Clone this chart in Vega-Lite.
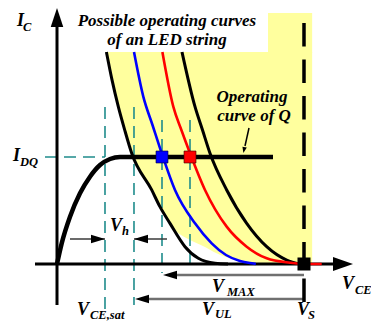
{
  "$schema": "https://vega.github.io/schema/vega-lite/v6.json",
  "width": 371,
  "height": 322,
  "padding": 0,
  "autosize": {"type": "none"},
  "background": "white",
  "config": {"view": {"stroke": null}},
  "encoding": {
    "x": {"field": "x", "type": "quantitative", "axis": null,
          "scale": {"domain": [-2.308, 12.713], "nice": false, "zero": false}},
    "y": {"field": "y", "type": "quantitative", "axis": null,
          "scale": {"domain": [-0.542, 2.467], "nice": false, "zero": false}}
  },
  "layer": [
    {
      "description": "shaded band of possible LED operating curves (upper notch)",
      "data": {"values": [{"x": 8.543, "x2": 10.33, "y": 1.975, "y2": 2.346}]},
      "mark": {"type": "rect", "color": "#ffff9e"},
      "encoding": {"x2": {"field": "x2"}, "y2": {"field": "y2"}}
    },
    {
      "description": "shaded band of possible LED operating curves (main body)",
      "data": {"values": [
        {"y": 1.981, "x": 2.0, "x2": 10.33},
        {"y": 1.72, "x": 2.227, "x2": 10.33},
        {"y": 1.47, "x": 2.482, "x2": 10.33},
        {"y": 1.243, "x": 2.753, "x2": 10.33},
        {"y": 1.035, "x": 3.024, "x2": 10.33},
        {"y": 0.692, "x": 3.834, "x2": 10.33},
        {"y": 0.536, "x": 4.166, "x2": 10.33},
        {"y": 0.38, "x": 4.575, "x2": 10.33},
        {"y": 0.29, "x": 4.899, "x2": 10.33},
        {"y": 0.224, "x": 5.385, "x2": 10.33},
        {"y": 0.159, "x": 5.992, "x2": 10.33},
        {"y": 0.103, "x": 6.437, "x2": 10.33},
        {"y": 0.065, "x": 6.842, "x2": 10.33},
        {"y": 0.028, "x": 7.49, "x2": 10.33},
        {"y": 0.009, "x": 8.138, "x2": 10.33},
        {"y": 0.0, "x": 8.826, "x2": 10.33}
      ]},
      "mark": {"type": "area", "orient": "horizontal", "interpolate": "monotone", "color": "#ffff9e"},
      "encoding": {"x2": {"field": "x2"}}
    },
    {
      "description": "teal dashed guide lines",
      "data": {"values": [
        {"x": 1.943, "x2": 1.943, "y": 1.467, "y2": -0.458},
        {"x": 3.117, "x2": 3.117, "y": 1.467, "y2": -0.383},
        {"x": 4.251, "x2": 4.251, "y": 1.346, "y2": -0.084},
        {"x": 5.385, "x2": 5.385, "y": 1.346, "y2": 0.0},
        {"x": -0.486, "x2": 1.943, "y": 1.0, "y2": 1.0}
      ]},
      "mark": {"type": "rule", "color": "#1f8c8c", "strokeWidth": 1.6, "strokeDash": [12, 7]},
      "encoding": {"x2": {"field": "x2"}, "y2": {"field": "y2"}}
    },
    {
      "description": "V_h dimension lines",
      "data": {"values": [
        {"x": 0.526, "x2": 1.943, "y": 0.234, "y2": 0.234},
        {"x": 3.117, "x2": 4.453, "y": 0.234, "y2": 0.234}
      ]},
      "mark": {"type": "rule", "color": "#3a3a3a", "strokeWidth": 1.5},
      "encoding": {"x2": {"field": "x2"}, "y2": {"field": "y2"}}
    },
    {
      "description": "V_MAX and V_UL dimension lines",
      "data": {"values": [
        {"x": 4.575, "x2": 10.0, "y": -0.103, "y2": -0.103},
        {"x": 3.441, "x2": 10.0, "y": -0.327, "y2": -0.327}
      ]},
      "mark": {"type": "rule", "color": "#707070", "strokeWidth": 2.5},
      "encoding": {"x2": {"field": "x2"}, "y2": {"field": "y2"}}
    },
    {
      "description": "coordinate axes",
      "data": {"values": [
        {"x": 0.0, "x2": 0.0, "y": -0.383, "y2": 2.215},
        {"x": -0.891, "x2": 11.174, "y": 0.0, "y2": 0.0}
      ]},
      "mark": {"type": "rule", "color": "black", "strokeWidth": 3},
      "encoding": {"x2": {"field": "x2"}, "y2": {"field": "y2"}}
    },
    {
      "description": "supply voltage V_S",
      "data": {"values": [{"x": 10.0, "x2": 10.0, "y": 2.252, "y2": -0.355}]},
      "mark": {"type": "rule", "color": "black", "strokeWidth": 3.5, "strokeDash": [23.5, 13]},
      "encoding": {"x2": {"field": "x2"}, "y2": {"field": "y2"}}
    },
    {
      "description": "LED string curves, outer bounds",
      "data": {"values": [
        {"s": "low", "x": 2.0, "y": 1.981},
        {"s": "low", "x": 2.227, "y": 1.72},
        {"s": "low", "x": 2.482, "y": 1.47},
        {"s": "low", "x": 2.753, "y": 1.243},
        {"s": "low", "x": 3.024, "y": 1.035},
        {"s": "low", "x": 3.834, "y": 0.692},
        {"s": "low", "x": 4.166, "y": 0.536},
        {"s": "low", "x": 4.575, "y": 0.38},
        {"s": "low", "x": 5.182, "y": 0.162},
        {"s": "low", "x": 5.721, "y": 0.053},
        {"s": "low", "x": 6.397, "y": 0.007},
        {"s": "low", "x": 6.923, "y": 0.0},
        {"s": "high", "x": 5.061, "y": 1.981},
        {"s": "high", "x": 5.587, "y": 1.47},
        {"s": "high", "x": 5.891, "y": 1.252},
        {"s": "high", "x": 6.194, "y": 1.035},
        {"s": "high", "x": 6.87, "y": 0.692},
        {"s": "high", "x": 7.68, "y": 0.38},
        {"s": "high", "x": 8.49, "y": 0.162},
        {"s": "high", "x": 9.3, "y": 0.037},
        {"s": "high", "x": 9.838, "y": 0.0}
      ]},
      "mark": {"type": "line", "color": "black", "strokeWidth": 3, "interpolate": "monotone"},
      "encoding": {"detail": {"field": "s"}}
    },
    {
      "description": "LED string curve, blue",
      "data": {"values": [
        {"x": 3.117, "y": 1.981},
        {"x": 3.494, "y": 1.564},
        {"x": 3.866, "y": 1.299},
        {"x": 4.239, "y": 1.035},
        {"x": 4.777, "y": 0.692},
        {"x": 5.587, "y": 0.38},
        {"x": 6.263, "y": 0.193},
        {"x": 6.842, "y": 0.084},
        {"x": 7.409, "y": 0.028},
        {"x": 7.947, "y": 0.004},
        {"x": 8.05, "y": 0.0}
      ]},
      "mark": {"type": "line", "color": "#0000ff", "strokeWidth": 2.6, "interpolate": "monotone"}
    },
    {
      "description": "LED string curve, red",
      "data": {"values": [
        {"x": 4.267, "y": 1.981},
        {"x": 4.709, "y": 1.47},
        {"x": 5.036, "y": 1.252},
        {"x": 5.385, "y": 1.035},
        {"x": 5.992, "y": 0.692},
        {"x": 6.87, "y": 0.349},
        {"x": 7.68, "y": 0.162},
        {"x": 8.49, "y": 0.053},
        {"x": 9.433, "y": 0.012},
        {"x": 10.04, "y": 0.0},
        {"x": 10.717, "y": 0.0}
      ]},
      "mark": {"type": "line", "color": "#ff0000", "strokeWidth": 2.6, "interpolate": "monotone"}
    },
    {
      "description": "operating curve of transistor Q",
      "data": {"values": [
        {"x": 0.0, "y": 0.0},
        {"x": 0.19, "y": 0.193},
        {"x": 0.526, "y": 0.442},
        {"x": 0.931, "y": 0.661},
        {"x": 1.336, "y": 0.816},
        {"x": 1.741, "y": 0.925},
        {"x": 2.146, "y": 0.981},
        {"x": 2.551, "y": 1.0},
        {"x": 5.0, "y": 1.0},
        {"x": 8.745, "y": 1.0}
      ]},
      "mark": {"type": "line", "color": "black", "strokeWidth": 4.5, "interpolate": "monotone"}
    },
    {
      "description": "pointer from the Q label",
      "data": {"values": [{"x": 7.773, "x2": 7.611, "y": 1.271, "y2": 1.103}]},
      "mark": {"type": "rule", "color": "black", "strokeWidth": 1.5},
      "encoding": {"x2": {"field": "x2"}, "y2": {"field": "y2"}}
    },
    {
      "data": {"values": [{"x": 7.571, "y": 1.065}]},
      "mark": {"type": "point", "filled": true, "opacity": 1, "color": "black",
               "shape": "M0,1L0.75,-1L-0.75,-1Z", "size": 36, "angle": 12}
    },
    {
      "description": "axis arrowheads",
      "data": {"values": [{"x": 0.0, "y": 2.304}]},
      "mark": {"type": "point", "filled": true, "opacity": 1, "color": "black",
               "shape": "M0,-1L0.66,1L-0.66,1Z", "size": 361}
    },
    {
      "data": {"values": [{"x": 11.579, "y": 0.0}]},
      "mark": {"type": "point", "filled": true, "opacity": 1, "color": "black",
               "shape": "M1,0L-1,0.7L-1,-0.7Z", "size": 400}
    },
    {
      "description": "dimension arrowheads pointing right",
      "data": {"values": [{"x": 1.66, "y": 0.234}]},
      "mark": {"type": "point", "filled": true, "opacity": 1, "color": "black",
               "shape": "M1,0L-1,-0.6L-1,0.6Z", "size": 196}
    },
    {
      "description": "dimension arrowheads pointing left",
      "data": {"values": [
        {"x": 3.401, "y": 0.234},
        {"x": 4.575, "y": -0.103},
        {"x": 3.441, "y": -0.327}
      ]},
      "mark": {"type": "point", "filled": true, "opacity": 1, "color": "black",
               "shape": "M-1,0L1,-0.6L1,0.6Z", "size": 196}
    },
    {
      "description": "operating points",
      "data": {"values": [{"x": 4.251, "y": 1.0}]},
      "mark": {"type": "point", "shape": "square", "filled": true, "opacity": 1,
               "color": "#0000ff", "stroke": "#000033", "strokeWidth": 0.6, "size": 144}
    },
    {
      "data": {"values": [{"x": 5.385, "y": 1.0}]},
      "mark": {"type": "point", "shape": "square", "filled": true, "opacity": 1,
               "color": "#ff0000", "stroke": "#330000", "strokeWidth": 0.6, "size": 144}
    },
    {
      "data": {"values": [{"x": 10.0, "y": 0.0}]},
      "mark": {"type": "point", "shape": "square", "filled": true, "opacity": 1,
               "color": "black", "size": 169}
    },
    {
      "description": "symbol letters",
      "data": {"values": [
        {"x": -1.619, "y": 2.271, "t": "I"},
        {"x": -1.781, "y": 1.009, "t": "I"},
        {"x": 2.146, "y": 0.355, "t": "V"},
        {"x": 6.275, "y": -0.215, "t": "V"},
        {"x": 11.538, "y": -0.187, "t": "V"},
        {"x": 5.87, "y": -0.43, "t": "V"},
        {"x": 0.81, "y": -0.428, "t": "V"},
        {"x": 9.717, "y": -0.428, "t": "V"}
      ]},
      "mark": {"type": "text", "align": "left", "baseline": "middle",
               "font": "Times New Roman, Liberation Serif, DejaVu Serif, serif",
               "fontStyle": "italic", "fontWeight": "bold", "fontSize": 18, "color": "black"},
      "encoding": {"text": {"field": "t"}}
    },
    {
      "description": "symbol subscripts",
      "data": {"values": [
        {"x": -1.377, "y": 2.215, "t": "C"},
        {"x": -1.498, "y": 0.953, "t": "DQ"},
        {"x": 2.632, "y": 0.308, "t": "h"},
        {"x": 6.883, "y": -0.262, "t": "MAX"},
        {"x": 12.065, "y": -0.243, "t": "CE"},
        {"x": 6.397, "y": -0.468, "t": "UL"},
        {"x": 1.336, "y": -0.472, "t": "CE,sat"},
        {"x": 10.162, "y": -0.472, "t": "S"}
      ]},
      "mark": {"type": "text", "align": "left", "baseline": "middle",
               "font": "Times New Roman, Liberation Serif, DejaVu Serif, serif",
               "fontStyle": "italic", "fontWeight": "bold", "fontSize": 12.5, "color": "black"},
      "encoding": {"text": {"field": "t"}}
    },
    {
      "description": "annotations",
      "data": {"values": [
        {"x": 4.453, "y": 2.271, "t": "Possible operating curves"},
        {"x": 4.453, "y": 2.093, "t": "of an LED string"},
        {"x": 7.895, "y": 1.561, "t": "Operating"},
        {"x": 7.976, "y": 1.383, "t": "curve of Q"}
      ]},
      "mark": {"type": "text", "align": "center", "baseline": "middle",
               "font": "Times New Roman, Liberation Serif, DejaVu Serif, serif",
               "fontStyle": "italic", "fontWeight": "bold", "fontSize": 17, "color": "black"},
      "encoding": {"text": {"field": "t"}}
    }
  ]
}
